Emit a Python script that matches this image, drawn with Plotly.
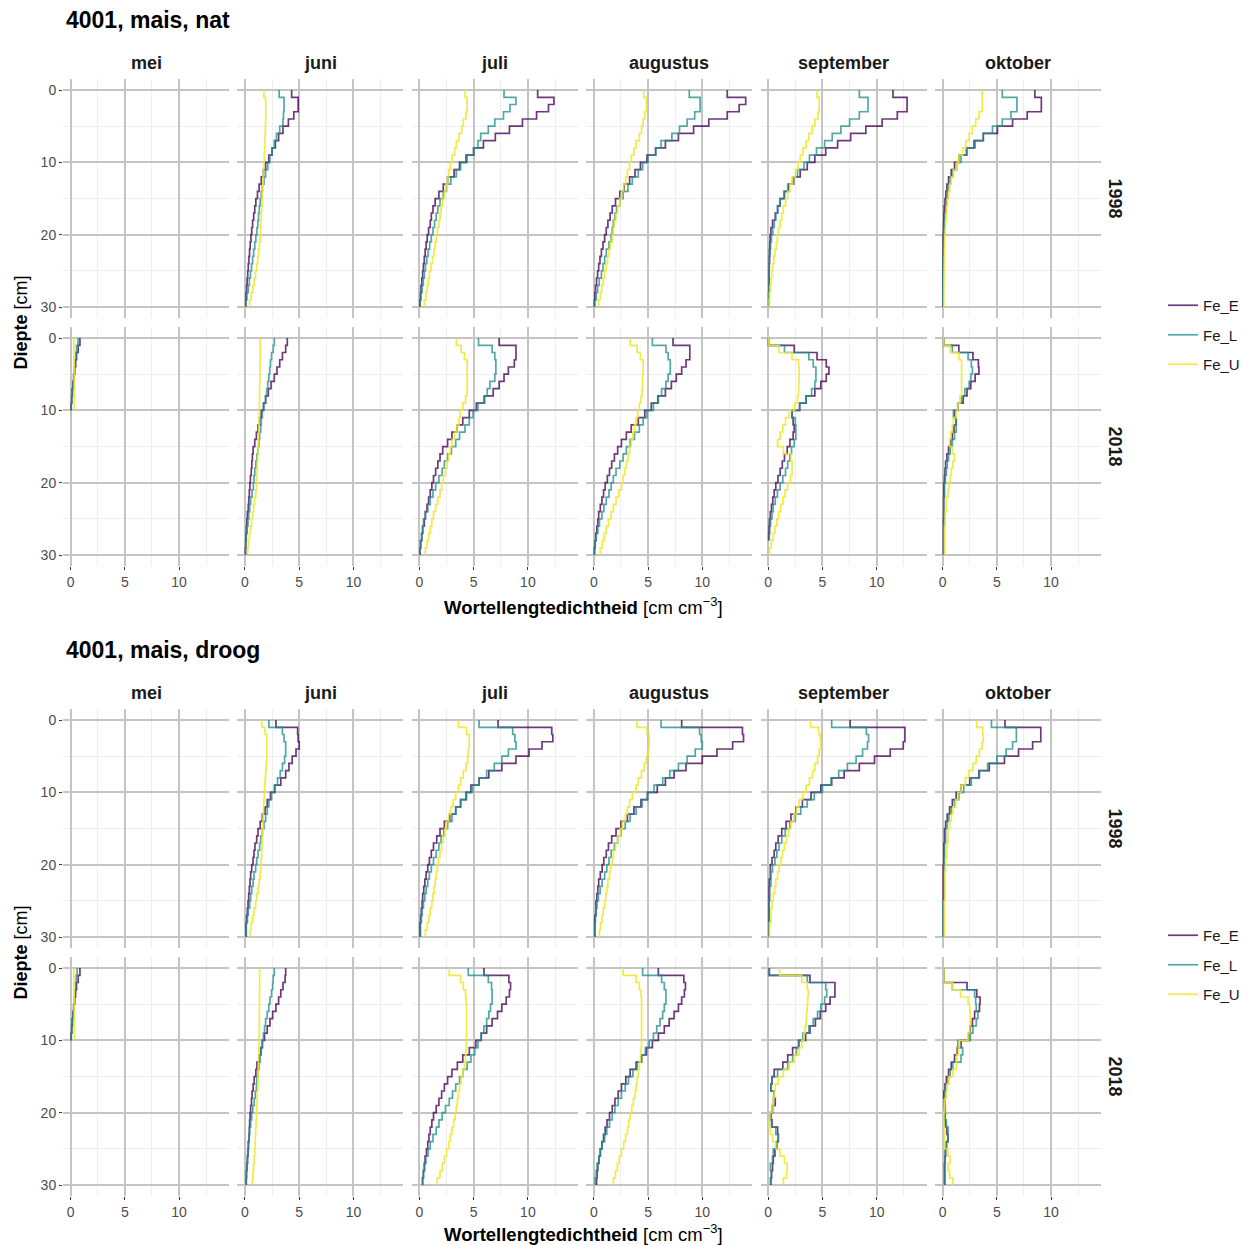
import plotly.graph_objects as go

W, H = 1248, 1245

months = ["mei", "juni", "juli", "augustus", "september", "oktober"]
years = [1998, 2018]
series = ["Fe_E", "Fe_L", "Fe_U"]
treatments = ["nat", "droog"]
titles = ["4001, mais, nat", "4001, mais, droog"]
depth_edges = list(range(0, 31))
x_ticks = [0, 5, 10]
x_minor = [2.5, 7.5, 12.5]
y_ticks = [0, 10, 20, 30]
y_minor = [5, 15, 25]

# ---------------- nat, 1998 ----------------
nat_1998_juni_E = [4.3, 4.9, 4.9, 4.5, 4.0, 3.5, 3.1, 2.8, 2.5, 2.2,
                   1.9, 1.7, 1.5, 1.3, 1.15, 1.0, 0.9, 0.8, 0.7, 0.62,
                   0.55, 0.48, 0.42, 0.36, 0.3, 0.25, 0.2, 0.15, 0.1, 0.07]
nat_1998_juni_L = [3.15, 3.6, 3.6, 3.55, 3.5, 3.2, 2.9, 2.7, 2.5, 2.3,
                   2.1, 1.9, 1.75, 1.6, 1.5, 1.4, 1.32, 1.25, 1.18, 1.1,
                   1.0, 0.9, 0.8, 0.7, 0.6, 0.5, 0.4, 0.3, 0.18, 0.08]
nat_1998_juni_U = [1.75, 1.9, 1.92, 1.92, 1.9, 1.88, 1.85, 1.82, 1.8, 1.77,
                   1.73, 1.7, 1.67, 1.63, 1.6, 1.57, 1.54, 1.5, 1.47, 1.44,
                   1.4, 1.33, 1.25, 1.17, 1.08, 0.97, 0.85, 0.72, 0.58, 0.42]

nat_1998_juli_E = [10.9, 12.4, 11.9, 10.8, 9.5, 8.3, 7.0, 5.9, 5.0, 4.3,
                   3.7, 3.2, 2.6, 2.2, 1.8, 1.45, 1.25, 1.1, 1.0, 0.85,
                   0.72, 0.62, 0.53, 0.45, 0.37, 0.3, 0.22, 0.15, 0.1, 0.05]
nat_1998_juli_L = [7.8, 8.9, 8.35, 7.75, 6.95, 6.35, 5.65, 5.4, 5.0, 4.4,
                   3.8, 3.4, 2.9, 2.5, 2.2, 1.9, 1.7, 1.55, 1.4, 1.25,
                   1.1, 0.95, 0.8, 0.68, 0.56, 0.46, 0.36, 0.25, 0.15, 0.07]
nat_1998_juli_U = [4.2, 4.4, 4.4, 4.3, 4.05, 3.9, 3.65, 3.4, 3.25, 3.0,
                   2.85, 2.7, 2.6, 2.45, 2.3, 2.15, 2.0, 1.9, 1.8, 1.67,
                   1.55, 1.44, 1.33, 1.2, 1.07, 0.93, 0.82, 0.72, 0.6, 0.45]

nat_1998_augustus_E = [12.3, 14.0, 13.4, 12.3, 10.6, 9.2, 7.8, 6.6, 5.7, 4.9,
                       4.3, 3.8, 3.3, 2.8, 2.4, 2.0, 1.7, 1.5, 1.3, 1.15,
                       1.0, 0.85, 0.7, 0.57, 0.45, 0.35, 0.25, 0.16, 0.1, 0.05]
nat_1998_augustus_L = [8.8, 9.8, 9.8, 9.3, 8.6, 7.9, 7.2, 6.2, 5.7, 5.0,
                       4.5, 4.1, 3.55, 3.15, 2.7, 2.4, 2.1, 1.95, 1.8, 1.7,
                       1.6, 1.4, 1.15, 1.0, 0.85, 0.7, 0.5, 0.35, 0.22, 0.1]
nat_1998_augustus_U = [4.6, 4.85, 4.85, 4.7, 4.55, 4.4, 4.2, 3.9, 3.7, 3.45,
                       3.3, 3.1, 2.95, 2.75, 2.55, 2.4, 2.2, 2.05, 1.9, 1.8,
                       1.7, 1.55, 1.4, 1.27, 1.15, 1.0, 0.85, 0.72, 0.6, 0.45]

nat_1998_september_E = [11.5, 12.8, 12.8, 11.9, 10.5, 9.0, 7.6, 6.4, 5.3, 4.3,
                        3.6, 2.95, 2.35, 1.9, 1.5, 1.1, 0.87, 0.65, 0.4, 0.25,
                        0.18, 0.15, 0.12, 0.1, 0.09, 0.08, 0.07, 0.06, 0.05, 0.05]
nat_1998_september_L = [8.4, 9.2, 9.2, 8.4, 7.5, 6.7, 5.9, 5.2, 4.45, 3.8,
                        3.3, 2.7, 2.25, 1.8, 1.45, 1.1, 0.87, 0.7, 0.55, 0.42,
                        0.3, 0.22, 0.17, 0.13, 0.1, 0.08, 0.07, 0.06, 0.05, 0.05]
nat_1998_september_U = [4.5, 4.7, 4.7, 4.6, 4.3, 4.05, 3.75, 3.5, 3.2, 2.95,
                        2.75, 2.5, 2.25, 2.0, 1.8, 1.6, 1.4, 1.25, 1.1, 0.95,
                        0.85, 0.75, 0.62, 0.52, 0.42, 0.33, 0.25, 0.18, 0.12, 0.08]

nat_1998_oktober_E = [8.5, 9.1, 9.1, 7.8, 6.45, 5.05, 3.75, 2.9, 2.2, 1.5,
                      1.1, 0.8, 0.55, 0.4, 0.3, 0.22, 0.15, 0.12, 0.1, 0.08,
                      0.05, 0.05, 0.04, 0.04, 0.03, 0.03, 0.03, 0.03, 0.03, 0.03]
nat_1998_oktober_L = [5.5, 6.85, 6.85, 6.3, 5.5, 4.6, 3.75, 3.0, 2.25, 1.7,
                      1.3, 0.95, 0.7, 0.55, 0.45, 0.35, 0.3, 0.22, 0.17, 0.12,
                      0.1, 0.08, 0.07, 0.06, 0.05, 0.05, 0.04, 0.04, 0.04, 0.04]
nat_1998_oktober_U = [3.65, 3.65, 3.65, 3.35, 3.05, 2.75, 2.45, 2.15, 1.85, 1.5,
                      1.3, 1.0, 0.8, 0.65, 0.55, 0.45, 0.37, 0.32, 0.28, 0.25,
                      0.2, 0.18, 0.17, 0.15, 0.14, 0.13, 0.12, 0.12, 0.11, 0.11]

# ---------------- nat, 2018 ----------------
nat_2018_mei_E = [0.86, 0.7, 0.55, 0.46, 0.37, 0.28, 0.22, 0.15, 0.1, 0.05]
nat_2018_mei_L = [0.68, 0.55, 0.5, 0.43, 0.37, 0.3, 0.25, 0.18, 0.12, 0.07]
nat_2018_mei_U = [0.3, 0.3, 0.31, 0.32, 0.33, 0.33, 0.34, 0.34, 0.35, 0.35]

nat_2018_juni_E = [3.9, 3.75, 3.45, 3.2, 2.95, 2.7, 2.4, 2.15, 1.9, 1.7,
                   1.5, 1.35, 1.2, 1.05, 0.9, 0.75, 0.68, 0.63, 0.58, 0.5,
                   0.45, 0.4, 0.35, 0.3, 0.22, 0.17, 0.13, 0.1, 0.07, 0.04]
nat_2018_juni_L = [2.7, 2.6, 2.45, 2.35, 2.28, 2.2, 2.1, 2.0, 1.9, 1.75,
                   1.6, 1.5, 1.45, 1.35, 1.28, 1.2, 1.1, 1.0, 0.9, 0.83,
                   0.77, 0.65, 0.52, 0.43, 0.35, 0.28, 0.2, 0.12, 0.08, 0.05]
nat_2018_juni_U = [1.4, 1.4, 1.4, 1.39, 1.38, 1.37, 1.36, 1.35, 1.34, 1.33,
                   1.32, 1.3, 1.28, 1.25, 1.22, 1.2, 1.17, 1.14, 1.12, 1.1,
                   1.08, 1.0, 0.9, 0.8, 0.7, 0.6, 0.5, 0.4, 0.33, 0.25]

nat_2018_juli_E = [7.35, 8.9, 8.9, 8.75, 8.2, 7.8, 7.35, 6.8, 6.0, 5.25,
                   4.6, 4.0, 3.45, 3.0, 2.6, 2.15, 1.9, 1.7, 1.5, 1.3,
                   1.15, 1.0, 0.85, 0.7, 0.55, 0.45, 0.3, 0.22, 0.12, 0.06]
nat_2018_juli_L = [5.45, 6.7, 6.95, 7.05, 7.05, 6.95, 6.5, 6.25, 5.95, 5.4,
                   4.95, 4.6, 4.2, 3.7, 3.35, 2.95, 2.6, 2.3, 2.1, 1.8,
                   1.5, 1.25, 1.0, 0.78, 0.55, 0.38, 0.3, 0.2, 0.1, 0.04]
nat_2018_juli_U = [3.4, 3.85, 4.15, 4.4, 4.4, 4.4, 4.4, 4.4, 4.25, 4.0,
                   3.75, 3.65, 3.45, 3.25, 3.0, 2.85, 2.7, 2.55, 2.4, 2.2,
                   2.05, 1.9, 1.7, 1.5, 1.3, 1.15, 1.0, 0.85, 0.7, 0.55]

nat_2018_augustus_E = [7.3, 8.85, 8.85, 8.5, 8.1, 7.6, 7.15, 6.6, 5.9, 5.3,
                       4.7, 4.1, 3.45, 3.0, 2.55, 2.2, 1.9, 1.65, 1.45, 1.25,
                       1.05, 0.9, 0.75, 0.6, 0.45, 0.37, 0.28, 0.18, 0.12, 0.06]
nat_2018_augustus_L = [5.4, 6.65, 6.85, 7.05, 7.05, 6.85, 6.65, 6.25, 5.95, 5.5,
                       4.9, 4.55, 4.2, 3.75, 3.35, 3.0, 2.7, 2.4, 2.05, 1.8,
                       1.6, 1.4, 1.15, 0.93, 0.75, 0.52, 0.37, 0.22, 0.12, 0.06]
nat_2018_augustus_U = [3.35, 4.0, 4.3, 4.55, 4.55, 4.5, 4.5, 4.45, 4.35, 4.2,
                       4.05, 3.9, 3.75, 3.6, 3.45, 3.3, 3.15, 3.0, 2.85, 2.7,
                       2.55, 2.3, 2.05, 1.8, 1.6, 1.35, 1.15, 0.95, 0.78, 0.6]

nat_2018_september_E = [0.03, 2.4, 4.5, 5.35, 5.6, 5.35, 4.85, 4.3, 3.5, 2.9,
                        2.2, 2.3, 2.4, 2.3, 2.0, 1.75, 1.5, 1.3, 1.1, 0.9,
                        0.7, 0.55, 0.42, 0.3, 0.2, 0.12, 0.08, 0.05]
nat_2018_september_L = [0.03, 1.5, 3.75, 4.15, 4.4, 4.4, 4.3, 4.0, 3.5, 2.9,
                        2.2, 2.5, 2.55, 2.55, 2.4, 2.15, 2.0, 1.8, 1.6, 1.35,
                        1.1, 0.85, 0.65, 0.45, 0.35, 0.22, 0.15, 0.1]
nat_2018_september_U = [0.03, 1.0, 2.2, 2.8, 2.85, 2.85, 2.82, 2.8, 2.7, 2.45,
                        1.95, 1.6, 1.35, 1.1, 0.87, 1.4, 2.1, 2.2, 2.2, 2.05,
                        1.8, 1.55, 1.35, 1.15, 0.95, 0.8, 0.62, 0.45, 0.28, 0.12]

nat_2018_oktober_E = [0.1, 1.5, 2.8, 3.3, 3.35, 3.0, 2.6, 2.25, 1.9, 1.4,
                      1.1, 1.25, 1.05, 0.9, 0.75, 0.55, 0.4, 0.28, 0.22, 0.18,
                      0.12, 0.12, 0.1, 0.1, 0.1, 0.08, 0.08, 0.08, 0.08, 0.08]
nat_2018_oktober_L = [0.1, 0.9, 2.35, 2.65, 2.75, 2.6, 2.45, 2.05, 1.75, 1.4,
                      1.0, 1.25, 1.25, 1.1, 0.9, 0.7, 0.55, 0.43, 0.35, 0.25,
                      0.18, 0.18, 0.1, 0.1, 0.1, 0.1, 0.1, 0.1, 0.1, 0.1]
nat_2018_oktober_U = [0.1, 0.7, 1.5, 1.75, 1.75, 1.75, 1.75, 1.75, 1.6, 1.4,
                      1.27, 1.0, 0.9, 0.75, 0.65, 0.9, 1.1, 0.95, 0.8, 0.7,
                      0.6, 0.5, 0.35, 0.35, 0.25, 0.25, 0.18, 0.18, 0.18, 0.18]

# ---------------- droog, 1998 ----------------
droog_1998_juni_E = [2.85, 4.85, 4.9, 5.0, 4.7, 4.35, 4.05, 3.75, 3.3, 2.75,
                     2.35, 2.05, 1.85, 1.6, 1.4, 1.2, 1.08, 0.92, 0.83, 0.74,
                     0.62, 0.52, 0.46, 0.4, 0.34, 0.28, 0.22, 0.15, 0.1, 0.1]
droog_1998_juni_L = [2.2, 3.45, 3.6, 3.75, 3.75, 3.65, 3.45, 3.25, 3.0, 2.7,
                     2.45, 2.2, 2.05, 1.9, 1.75, 1.6, 1.45, 1.35, 1.2, 1.08,
                     0.98, 0.83, 0.74, 0.62, 0.52, 0.43, 0.3, 0.22, 0.12, 0.12]
droog_1998_juni_U = [1.55, 1.85, 2.0, 2.0, 2.0, 2.0, 1.95, 1.9, 1.85, 1.8,
                     1.77, 1.74, 1.7, 1.67, 1.65, 1.62, 1.6, 1.57, 1.54, 1.5,
                     1.47, 1.4, 1.3, 1.2, 1.08, 0.98, 0.83, 0.7, 0.58, 0.46]

droog_1998_juli_E = [7.25, 12.2, 12.3, 11.3, 10.1, 8.9, 7.6, 6.4, 5.5, 4.75,
                     4.3, 3.8, 3.35, 2.8, 2.3, 1.9, 1.6, 1.3, 1.1, 0.92,
                     0.77, 0.62, 0.5, 0.4, 0.3, 0.25, 0.18, 0.12, 0.06, 0.06]
droog_1998_juli_L = [5.5, 8.6, 8.8, 8.9, 8.2, 7.6, 6.9, 6.2, 5.5, 4.9,
                     4.35, 3.8, 3.35, 3.0, 2.6, 2.25, 2.0, 1.8, 1.55, 1.3,
                     1.1, 0.92, 0.77, 0.62, 0.5, 0.37, 0.25, 0.18, 0.1, 0.1]
droog_1998_juli_U = [3.6, 4.35, 4.6, 4.6, 4.5, 4.45, 4.3, 4.05, 3.8, 3.6,
                     3.35, 3.1, 2.9, 2.7, 2.5, 2.35, 2.2, 2.05, 1.9, 1.75,
                     1.65, 1.55, 1.45, 1.35, 1.25, 1.15, 1.0, 0.87, 0.72, 0.55]

droog_1998_augustus_E = [8.1, 13.7, 13.8, 12.8, 11.35, 10.0, 8.5, 7.4, 6.6, 5.85,
                         4.95, 4.35, 3.7, 3.1, 2.5, 2.05, 1.65, 1.35, 1.15, 0.92,
                         0.77, 0.6, 0.45, 0.37, 0.28, 0.2, 0.2, 0.1, 0.1, 0.1]
droog_1998_augustus_L = [6.2, 9.75, 9.9, 10.0, 9.35, 8.6, 7.8, 7.0, 6.35, 5.55,
                         4.95, 4.45, 3.9, 3.35, 2.9, 2.5, 2.2, 1.9, 1.6, 1.4,
                         1.2, 1.0, 0.77, 0.58, 0.43, 0.3, 0.22, 0.15, 0.08, 0.08]
droog_1998_augustus_U = [4.0, 4.9, 5.1, 5.1, 5.05, 4.85, 4.65, 4.4, 4.1, 3.9,
                         3.55, 3.3, 3.1, 2.9, 2.65, 2.45, 2.2, 2.0, 1.8, 1.7,
                         1.55, 1.45, 1.3, 1.2, 1.1, 1.0, 0.87, 0.75, 0.62, 0.52]

droog_1998_september_E = [7.55, 12.6, 12.6, 12.45, 11.25, 9.8, 8.4, 7.0, 5.85, 4.85,
                          3.95, 3.15, 2.55, 2.1, 1.65, 1.25, 0.92, 0.7, 0.55, 0.35,
                          0.2, 0.2, 0.1, 0.08, 0.08, 0.07, 0.07, 0.06, 0.06, 0.06]
droog_1998_september_L = [5.85, 9.05, 9.25, 9.15, 8.7, 8.1, 7.3, 6.5, 5.8, 5.0,
                          4.25, 3.6, 3.0, 2.5, 2.0, 1.57, 1.25, 1.0, 0.8, 0.62,
                          0.4, 0.25, 0.25, 0.15, 0.15, 0.08, 0.08, 0.08, 0.08, 0.08]
droog_1998_september_U = [3.9, 4.65, 4.8, 4.85, 4.7, 4.55, 4.3, 4.1, 3.8, 3.5,
                          3.2, 2.85, 2.6, 2.35, 2.1, 1.9, 1.7, 1.5, 1.33, 1.18,
                          1.0, 0.87, 0.7, 0.6, 0.47, 0.35, 0.25, 0.25, 0.12, 0.12]

droog_1998_oktober_E = [5.75, 9.05, 9.05, 8.3, 7.0, 5.7, 4.3, 3.35, 2.5, 1.7,
                        1.25, 0.9, 0.65, 0.43, 0.28, 0.18, 0.18, 0.12, 0.12, 0.12,
                        0.06, 0.06, 0.06, 0.06, 0.06, 0.06, 0.06, 0.06, 0.06, 0.06]
droog_1998_oktober_L = [4.5, 6.8, 6.8, 6.45, 5.85, 5.0, 4.15, 3.4, 2.65, 1.95,
                        1.5, 1.1, 0.8, 0.58, 0.43, 0.28, 0.28, 0.18, 0.18, 0.18,
                        0.12, 0.12, 0.12, 0.12, 0.12, 0.06, 0.06, 0.06, 0.06, 0.06]
droog_1998_oktober_U = [3.15, 3.7, 3.75, 3.65, 3.4, 3.1, 2.8, 2.4, 2.1, 1.7,
                        1.4, 1.2, 0.95, 0.8, 0.65, 0.5, 0.5, 0.4, 0.4, 0.28,
                        0.28, 0.22, 0.22, 0.22, 0.22, 0.15, 0.15, 0.15, 0.15, 0.15]

# ---------------- droog, 2018 ----------------
droog_2018_mei_E = [0.86, 0.7, 0.55, 0.46, 0.37, 0.28, 0.22, 0.15, 0.1, 0.05]
droog_2018_mei_L = [0.6, 0.52, 0.47, 0.42, 0.36, 0.3, 0.24, 0.18, 0.12, 0.07]
droog_2018_mei_U = [0.3, 0.3, 0.31, 0.32, 0.33, 0.33, 0.34, 0.34, 0.35, 0.35]

droog_2018_juni_E = [3.75, 3.7, 3.5, 3.3, 3.1, 2.85, 2.55, 2.3, 2.05, 1.8,
                     1.6, 1.45, 1.3, 1.1, 1.0, 0.85, 0.75, 0.65, 0.6, 0.52,
                     0.47, 0.43, 0.4, 0.37, 0.32, 0.28, 0.23, 0.18, 0.14, 0.12]
droog_2018_juni_L = [2.7, 2.6, 2.55, 2.45, 2.3, 2.2, 2.05, 1.9, 1.8, 1.7,
                     1.6, 1.5, 1.4, 1.3, 1.2, 1.1, 1.05, 0.95, 0.85, 0.72,
                     0.62, 0.52, 0.43, 0.36, 0.3, 0.25, 0.22, 0.15, 0.12, 0.1]
droog_2018_juni_U = [1.35, 1.35, 1.35, 1.34, 1.34, 1.33, 1.33, 1.32, 1.32, 1.31,
                     1.3, 1.28, 1.26, 1.24, 1.22, 1.2, 1.17, 1.14, 1.11, 1.08,
                     1.05, 1.02, 0.99, 0.96, 0.93, 0.9, 0.85, 0.8, 0.74, 0.68]

droog_2018_juli_E = [5.95, 8.25, 8.4, 8.3, 8.0, 7.6, 7.2, 6.7, 6.2, 5.7,
                     5.2, 4.6, 4.0, 3.5, 3.0, 2.6, 2.3, 2.05, 1.8, 1.55,
                     1.3, 1.15, 1.0, 0.88, 0.77, 0.65, 0.52, 0.45, 0.37, 0.3]
droog_2018_juli_L = [4.5, 6.35, 6.65, 6.7, 6.7, 6.55, 6.4, 6.2, 5.95, 5.7,
                     5.4, 5.1, 4.75, 4.4, 4.0, 3.7, 3.35, 3.05, 2.75, 2.4,
                     2.1, 1.8, 1.55, 1.25, 1.0, 0.8, 0.6, 0.48, 0.37, 0.28]
droog_2018_juli_U = [2.75, 3.8, 4.05, 4.25, 4.3, 4.35, 4.35, 4.35, 4.35, 4.35,
                     4.35, 4.3, 4.25, 4.15, 4.0, 3.85, 3.7, 3.6, 3.5, 3.4,
                     3.3, 3.15, 3.0, 2.85, 2.7, 2.5, 2.3, 2.1, 1.9, 1.65]

droog_2018_augustus_E = [5.95, 8.3, 8.45, 8.35, 8.1, 7.8, 7.4, 6.95, 6.5, 5.95,
                         5.4, 4.85, 4.4, 3.9, 3.35, 2.95, 2.55, 2.25, 1.95, 1.7,
                         1.45, 1.22, 1.05, 0.9, 0.75, 0.6, 0.47, 0.37, 0.3, 0.25]
droog_2018_augustus_L = [4.5, 6.25, 6.5, 6.65, 6.65, 6.5, 6.35, 6.1, 5.8, 5.5,
                         5.1, 4.75, 4.4, 4.0, 3.6, 3.2, 2.9, 2.55, 2.25, 1.95,
                         1.7, 1.45, 1.2, 1.0, 0.77, 0.6, 0.47, 0.3, 0.22, 0.12]
droog_2018_augustus_U = [2.7, 3.9, 4.2, 4.35, 4.4, 4.4, 4.4, 4.4, 4.4, 4.4,
                         4.4, 4.35, 4.3, 4.2, 4.1, 4.0, 3.9, 3.8, 3.65, 3.5,
                         3.35, 3.22, 3.1, 2.92, 2.75, 2.55, 2.35, 2.17, 2.0, 1.8]

droog_2018_september_E = [0.1, 3.85, 6.15, 6.15, 5.7, 5.3, 4.8, 4.35, 3.85, 3.45,
                          2.8, 2.25, 1.8, 1.35, 0.55, 0.35, 0.25, 0.55, 0.65, 0.4,
                          0.25, 0.35, 0.87, 0.93, 0.78, 0.62, 0.47, 0.4, 0.3, 0.25]
droog_2018_september_L = [0.1, 3.6, 5.3, 5.4, 5.2, 4.85, 4.55, 4.15, 3.75, 3.2,
                          2.85, 2.6, 2.25, 1.8, 0.87, 0.35, 0.25, 0.55, 0.47, 0.35,
                          0.15, 0.3, 0.7, 0.93, 0.78, 0.47, 0.4, 0.2, 0.3, 0.2]
droog_2018_september_U = [1.05, 3.1, 3.6, 3.7, 3.65, 3.6, 3.55, 3.5, 3.4, 3.3,
                          3.1, 2.85, 2.4, 1.95, 1.4, 0.95, 0.65, 0.55, 0.47, 0.35,
                          0.15, 0.1, 0.2, 0.4, 0.7, 1.08, 1.5, 1.75, 1.7, 1.4]

droog_2018_oktober_E = [0.12, 0.12, 2.25, 3.15, 3.45, 3.4, 2.95, 2.75, 2.55, 2.4,
                        1.7, 1.35, 1.1, 0.8, 0.55, 0.35, 0.22, 0.12, 0.18, 0.25,
                        0.22, 0.25, 0.4, 0.5, 0.35, 0.28, 0.22, 0.18, 0.18, 0.18]
droog_2018_oktober_L = [0.12, 0.12, 0.9, 2.95, 3.05, 3.1, 3.25, 3.1, 2.8, 2.55,
                        1.4, 1.85, 1.7, 0.95, 0.7, 0.5, 0.28, 0.22, 0.22, 0.18,
                        0.18, 0.35, 0.5, 0.5, 0.35, 0.22, 0.22, 0.22, 0.22, 0.22]
droog_2018_oktober_U = [0.12, 0.12, 0.9, 1.65, 2.35, 2.5, 2.55, 2.55, 2.5, 2.35,
                        1.55, 1.45, 1.3, 1.25, 0.95, 0.58, 0.43, 0.35, 0.2, 0.2,
                        0.12, 0.12, 0.18, 0.18, 0.18, 0.5, 0.7, 0.5, 0.65, 0.95]

g = globals()
panel_data = {}
for t in treatments:
    for yr in years:
        for m in months:
            names = [f"{t}_{yr}_{m}_{s[-1]}" for s in series]
            if all(n in g for n in names):
                panel_data[(t, yr, m)] = [g[n] for n in names]

# ---------------- styling ----------------
colors = {"Fe_E": "rgba(68,1,84,0.78)", "Fe_L": "rgba(33,144,140,0.78)", "Fe_U": "rgba(240,230,40,0.85)"}
FONT = "Liberation Sans, Arial, Helvetica, sans-serif"
MAJ = "#c4c4c4"
MIN = "#eeeeee"

col_left = [63 + 174.4 * c for c in range(6)]
PW = 166.0
ROW_TOP0 = 79.2
PH = 238.7
ROW_PITCH = 248.0
FIG_OFF = 630.0
XT_Y = [606.0, 1233.0]

fig = go.Figure()
layout = dict(width=W, height=H, margin=dict(l=0, r=0, t=0, b=0),
              paper_bgcolor="white", plot_bgcolor="white",
              font=dict(family=FONT), showlegend=True)
annotations = []

for f, t in enumerate(treatments):
    for r, yr in enumerate(years):
        top = ROW_TOP0 + FIG_OFF * f + ROW_PITCH * r
        bot = top + PH
        for c, m in enumerate(months):
            idx = (f * 2 + r) * 6 + c + 1
            L = col_left[c]
            xa = dict(domain=[L / W, (L + PW) / W], anchor=f"y{idx}", range=[-0.7, 14.6],
                      tickvals=x_ticks, showgrid=True, gridcolor=MAJ, gridwidth=1.7,
                      minor=dict(tickvals=x_minor, showgrid=True, gridcolor=MIN, gridwidth=0.8, ticks=""),
                      zeroline=False, showline=False, fixedrange=True,
                      showticklabels=(r == 1), ticks=("outside" if r == 1 else ""),
                      ticklen=3, tickwidth=1.1, tickcolor="#333333",
                      tickfont=dict(size=14, color="#4d4d4d", family=FONT))
            ya = dict(domain=[1 - bot / H, 1 - top / H], anchor=f"x{idx}", range=[31.5, -1.5],
                      tickvals=y_ticks, showgrid=True, gridcolor=MAJ, gridwidth=1.7,
                      minor=dict(tickvals=y_minor, showgrid=True, gridcolor=MIN, gridwidth=0.8, ticks=""),
                      zeroline=False, showline=False, fixedrange=True,
                      showticklabels=(c == 0), ticks=("outside" if c == 0 else ""),
                      ticklen=3, tickwidth=1.1, tickcolor="#333333",
                      tickfont=dict(size=14, color="#4d4d4d", family=FONT))
            layout["xaxis" if idx == 1 else f"xaxis{idx}"] = xa
            layout["yaxis" if idx == 1 else f"yaxis{idx}"] = ya

            key = (t, yr, m)
            if key in panel_data:
                for s, vals in zip(series, panel_data[key]):
                    xs = list(vals) + [vals[-1]]
                    ys = depth_edges[:len(vals) + 1]
                    show = (yr == 1998 and m == "juni")
                    fig.add_trace(go.Scatter(
                        x=xs, y=ys, mode="lines", line=dict(shape="vh", width=1.7, color=colors[s]),
                        name=s, legendgroup=f"{t}_{s}", showlegend=show,
                        legend=("legend" if f == 0 else "legend2"),
                        xaxis=f"x{idx}", yaxis=f"y{idx}", hoverinfo="skip"))
            else:
                # empty facet: keep the panel (grid + axes) visible
                fig.add_trace(go.Scatter(x=[None], y=[None], mode="lines", showlegend=False,
                                         xaxis=f"x{idx}", yaxis=f"y{idx}", hoverinfo="skip"))

            if r == 0:
                annotations.append(dict(text=m, x=(L + PW / 2) / W, y=1 - (63 + FIG_OFF * f) / H,
                                        xref="paper", yref="paper", showarrow=False,
                                        xanchor="center", yanchor="middle",
                                        font=dict(size=18, color="#1a1a1a", family=FONT, weight="bold")))
        annotations.append(dict(text=str(yr), x=1115 / W, y=1 - ((top + bot) / 2) / H,
                                xref="paper", yref="paper", showarrow=False, textangle=90,
                                xanchor="center", yanchor="middle",
                                font=dict(size=18, color="#1a1a1a", family=FONT, weight="bold")))
    annotations.append(dict(text=titles[f], x=64 / W, y=1 - (20 + FIG_OFF * f) / H,
                            xref="paper", yref="paper", showarrow=False,
                            xanchor="left", yanchor="middle",
                            font=dict(size=23, color="black", family=FONT, weight="bold")))
    annotations.append(dict(text="<b>Diepte</b> [cm]", x=20 / W, y=1 - (322.5 + FIG_OFF * f) / H,
                            xref="paper", yref="paper", showarrow=False, textangle=-90,
                            xanchor="center", yanchor="middle",
                            font=dict(size=18, color="black", family=FONT)))
    annotations.append(dict(text="<b>Wortellengtedichtheid</b> [cm cm<sup>\u22123</sup>]",
                            x=583 / W, y=1 - XT_Y[f] / H,
                            xref="paper", yref="paper", showarrow=False,
                            xanchor="center", yanchor="middle",
                            font=dict(size=18.5, color="black", family=FONT)))

layout["annotations"] = annotations
leg_common = dict(xanchor="left", yanchor="middle", font=dict(size=15, color="#1a1a1a", family=FONT),
                  tracegroupgap=7, bgcolor="rgba(0,0,0,0)", itemwidth=30, traceorder="grouped")
layout["legend"] = dict(x=1163 / W, y=1 - 335 / H, **leg_common)
layout["legend2"] = dict(x=1163 / W, y=1 - 965 / H, **leg_common)
fig.update_layout(**layout)

fig.write_html("out.html")
